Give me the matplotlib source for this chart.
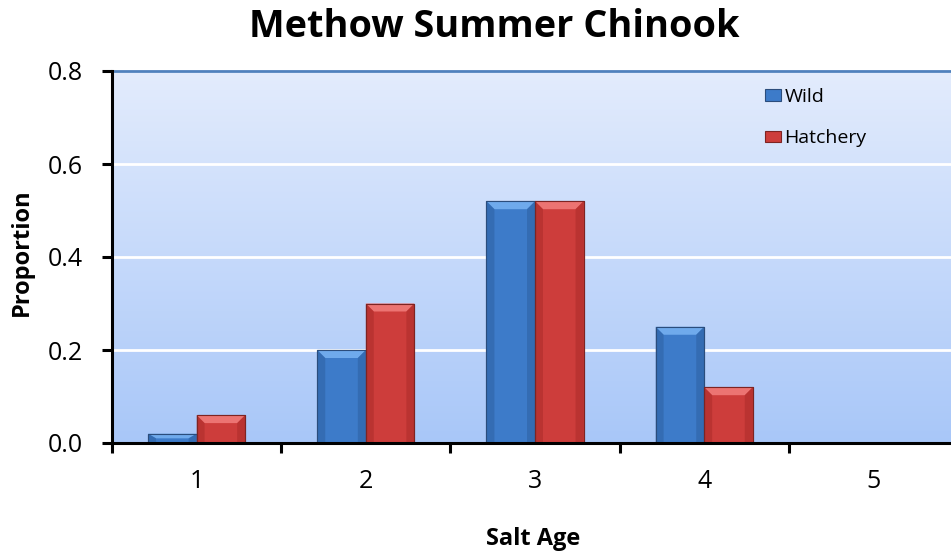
import numpy as np
import matplotlib
matplotlib.use("Agg")
import matplotlib.pyplot as plt
from matplotlib.patches import Polygon

categories = ["1", "2", "3", "4", "5"]
wild = [0.02, 0.20, 0.52, 0.25, 0.0]
hatchery = [0.06, 0.30, 0.52, 0.12, 0.0]
series_names = ["Wild", "Hatchery"]
yticks = [0.0, 0.2, 0.4, 0.6, 0.8]
ytick_labels = ["0.0", "0.2", "0.4", "0.6", "0.8"]

plt.rcParams['font.family'] = ['Open Sans', 'DejaVu Sans']

W, H = 951, 554
fig = plt.figure(figsize=(W / 100, H / 100), dpi=100)
ax = fig.add_axes([112 / W, (H - 443) / H, 846 / W, (443 - 71) / H])

x = np.arange(1, len(categories) + 1)
bw = 0.287

ax.set_xlim(0.5, 5.5)
ax.set_ylim(0, 0.8)

# gradient background
grad = np.linspace(0, 1, 256).reshape(-1, 1)
top = np.array([0.89, 0.925, 0.99])
bot = np.array([0.66, 0.78, 0.975])
img = top[None, None, :] * (1 - grad[:, :, None]) + bot[None, None, :] * grad[:, :, None]
ax.imshow(img, extent=[0.5, 5.5, 0, 0.8], aspect='auto', origin='upper', zorder=0)

for yv in yticks[1:]:
    ax.axhline(yv, color='white', lw=2, zorder=1)

def bevel_bars(xs, vals, main, light, dark, edge):
    bars = ax.bar(xs, vals, width=bw, color=main, edgecolor=edge, linewidth=0.8, zorder=3)
    px_y = 0.8 / 372.0
    px_x = 5.0 / 846.0
    for b in bars:
        h = b.get_height()
        if h <= 0:
            b.set_visible(False)
            continue
        x0, w = b.get_x(), b.get_width()
        x1 = x0 + w
        bh = min(8 * px_y, h * 0.5)
        bx = 8 * px_x
        ax.add_patch(Polygon([[x0, h], [x1, h], [x1 - bx, h - bh], [x0 + bx, h - bh]],
                             closed=True, facecolor=light, edgecolor='none', zorder=4))
        ax.add_patch(Polygon([[x0, h], [x0 + bx, h - bh], [x0 + bx, 0], [x0, 0]],
                             closed=True, facecolor=dark, edgecolor='none', zorder=4, alpha=0.5))
        ax.add_patch(Polygon([[x1, h], [x1 - bx, h - bh], [x1 - bx, 0], [x1, 0]],
                             closed=True, facecolor=dark, edgecolor='none', zorder=4, alpha=0.5))
        ax.add_patch(plt.Rectangle((x0, 0), w, h, facecolor='none', edgecolor=edge, lw=0.8, zorder=5))
    return bars

b1 = bevel_bars(x - bw / 2, wild, '#3D7BC9', '#6FAAEC', '#2C5F9F', '#2B4D7C')
b2 = bevel_bars(x + bw / 2, hatchery, '#CD3D3B', '#EC7472', '#A82A28', '#7E2422')

for s in ['top', 'right']:
    ax.spines[s].set_visible(False)
ax.plot([0.5, 5.5], [0.8, 0.8], color='#4F81BD', lw=2, zorder=2, clip_on=False)
ax.spines['left'].set_linewidth(2.2)
ax.spines['bottom'].set_linewidth(2.2)
ax.spines['left'].set_zorder(6)
ax.spines['bottom'].set_zorder(6)

ax.set_yticks(yticks)
ax.set_yticklabels(ytick_labels, fontsize=18)
ax.set_xticks(x)
ax.set_xticklabels(categories, fontsize=18)
ax.tick_params(axis='x', which='major', length=0, pad=18.5)
ax.set_xticks(np.arange(0.5, 5.6, 1.0), minor=True)
ax.tick_params(axis='x', which='minor', length=7, width=2.2, direction='out')
ax.tick_params(axis='y', which='major', length=7, width=2.2, direction='out', pad=14)

fig.text(533 / W, 1 - 545 / H, "Salt Age", fontsize=17, fontweight='bold',
         ha='center', va='baseline')
fig.text(22 / W, 1 - 252 / H, "Proportion", fontsize=17, fontweight='bold',
         ha='center', va='center', rotation=90)

fig.text(494 / W, 1 - 37 / H, "Methow Summer Chinook", fontsize=27.3, fontweight='bold',
         ha='center', va='baseline')

leg = fig.legend([b1, b2], series_names, loc='upper left',
                 bbox_to_anchor=(765 / W, 1 - 88 / H),
                 frameon=False, fontsize=14, handlelength=0.8, handleheight=0.55,
                 handletextpad=0.2, labelspacing=1.2, borderpad=0, borderaxespad=0)

fig.savefig("out.png", dpi=100)
